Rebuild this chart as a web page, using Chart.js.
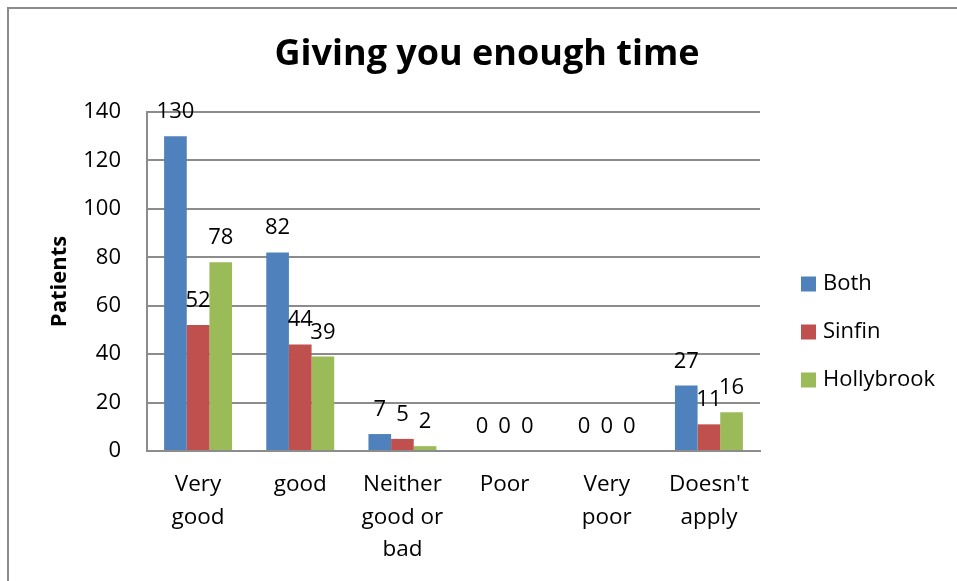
<!DOCTYPE html>
<html>
<head>
<meta charset="utf-8">
<script src="https://cdn.jsdelivr.net/npm/chart.js@4"></script>
<style>
  html, body { margin: 0; padding: 0; background: #fff; overflow: hidden; }
  #wrap { position: relative; width: 957px; height: 581px; }
  #frame { position: absolute; left: 7px; top: 7px; width: 980px; height: 600px;
           border-top: 2px solid #8c8c8c; border-left: 2px solid #8c8c8c; box-sizing: border-box; pointer-events: none; }
  canvas { position: absolute; left: 0; top: 0; }
</style>
</head>
<body>
<div id="wrap">
  <canvas id="c" width="957" height="581"></canvas>
  <div id="frame"></div>
</div>
<script>
const chartTitle = "Giving you enough time";
const categories = [["Very", "good"], ["good"], ["Neither", "good or", "bad"], ["Poor"], ["Very", "poor"], ["Doesn't", "apply"]];
const seriesNames = ["Both", "Sinfin", "Hollybrook"];
const bothValues = [130, 82, 7, 0, 0, 27];
const sinfinValues = [52, 44, 5, 0, 0, 11];
const hollybrookValues = [78, 39, 2, 0, 0, 16];
const yTicks = [0, 20, 40, 60, 80, 100, 120, 140];
const colors = ["#4F81BD", "#C0504D", "#9BBB59"];

const FONT = '"Open Sans", "Noto Sans", sans-serif';

const valueLabels = {
  id: 'valueLabels',
  afterDatasetsDraw(chart) {
    const ctx = chart.ctx;
    ctx.save();
    ctx.font = '22px ' + FONT;
    ctx.fillStyle = '#000';
    ctx.textAlign = 'center';
    ctx.textBaseline = 'alphabetic';
    chart.data.datasets.forEach((ds, i) => {
      const meta = chart.getDatasetMeta(i);
      meta.data.forEach((bar, j) => {
        ctx.fillText(String(ds.data[j]), bar.x, bar.y - 18);
      });
    });
    ctx.restore();
  }
};

const titleAndLegend = {
  id: 'titleAndLegend',
  afterDraw(chart) {
    const ctx = chart.ctx;
    ctx.save();
    ctx.fillStyle = '#000';
    ctx.font = 'bold 36px ' + FONT;
    ctx.textAlign = 'center';
    ctx.textBaseline = 'middle';
    ctx.fillText(chartTitle, 487, 55);

    ctx.font = '22px ' + FONT;
    ctx.textBaseline = 'middle';
    ctx.textAlign = 'left';
    const x0 = chart.chartArea.right + 41;
    const yMid = 332;
    const gap = 48;
    chart.data.datasets.forEach((ds, i) => {
      const y = yMid + (i - 1) * gap;
      ctx.fillStyle = ds.backgroundColor;
      ctx.fillRect(x0, y - 7.5, 15, 15);
      ctx.fillStyle = '#000';
      ctx.fillText(ds.label, x0 + 22, y);
    });
    ctx.restore();
  }
};

new Chart(document.getElementById('c'), {
  type: 'bar',
  data: {
    labels: categories,
    datasets: [
      { label: seriesNames[0], data: bothValues, backgroundColor: colors[0] },
      { label: seriesNames[1], data: sinfinValues, backgroundColor: colors[1] },
      { label: seriesNames[2], data: hollybrookValues, backgroundColor: colors[2] }
    ]
  },
  options: {
    responsive: false,
    animation: false,
    devicePixelRatio: 1,
    layout: { padding: { left: 0, right: 197, top: 112, bottom: 0 } },
    datasets: { bar: { categoryPercentage: 0.665, barPercentage: 1.0 } },
    plugins: {
      legend: { display: false },
      tooltip: { enabled: false },
      title: { display: false }
    },
    scales: {
      x: {
        grid: { display: false, drawTicks: false },
        border: { display: true, color: '#8c8c8c', width: 2 },
        ticks: { color: '#000', font: { family: FONT, size: 22.5, lineHeight: 1.43 }, padding: 18, maxRotation: 0, autoSkip: false },
        afterFit(scale) { scale.height = 130; }
      },
      y: {
        min: 0, max: 140,
        afterBuildTicks(scale) { scale.ticks = yTicks.map(v => ({ value: v })); },
        grid: { color: '#8c8c8c', lineWidth: 2, drawTicks: false },
        border: { display: true, color: '#8c8c8c', width: 2 },
        ticks: { color: '#000', font: { family: FONT, size: 22 }, padding: 26 },
        title: { display: true, text: 'Patients', color: '#000', font: { family: FONT, size: 22, weight: 'bold', lineHeight: 1.2 }, padding: { top: 47, bottom: 0 } },
        afterFit(scale) { scale.width = 147; }
      }
    }
  },
  plugins: [valueLabels, titleAndLegend]
});
</script>
</body>
</html>
